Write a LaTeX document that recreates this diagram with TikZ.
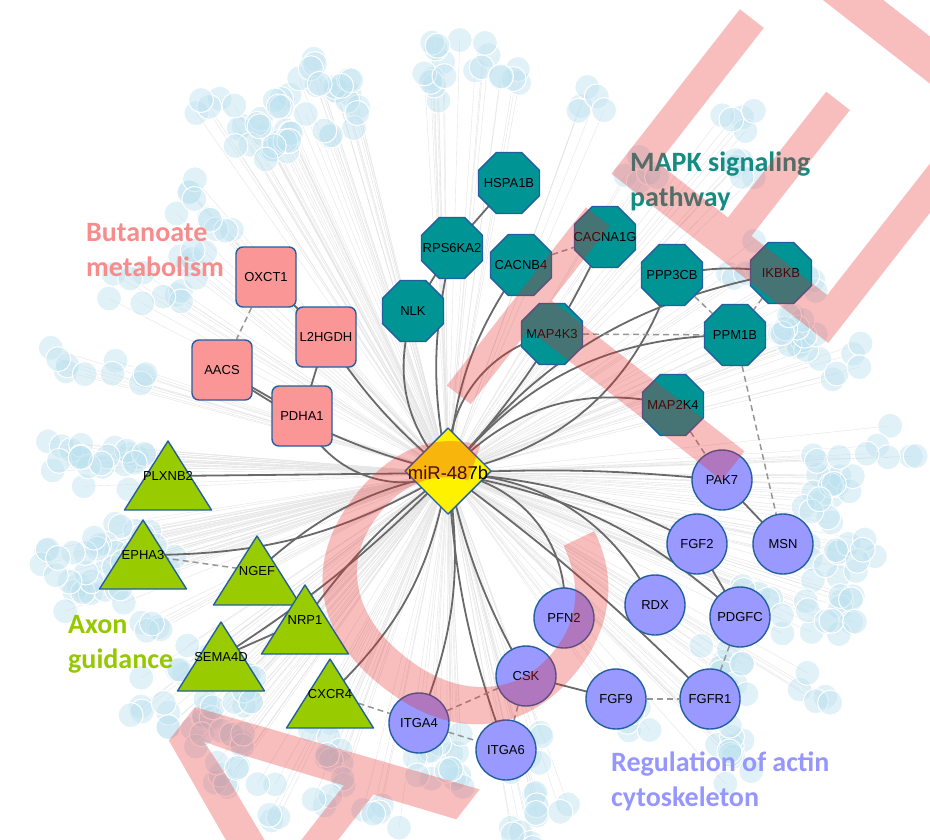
\documentclass[tikz,border=0pt]{standalone}
\usepackage{fontspec}
\setmainfont{Liberation Sans}
\newfontfamily\calfont{Carlito}
\usetikzlibrary{shapes.geometric}
\definecolor{sqfill}{RGB}{250,150,150}
\definecolor{octfill}{RGB}{0,148,148}
\definecolor{trifill}{RGB}{153,204,0}
\definecolor{cirfill}{RGB}{153,153,255}
\definecolor{nodeborder}{RGB}{35,95,160}
\definecolor{edgegray}{RGB}{105,105,105}
\definecolor{dashgray}{RGB}{150,150,150}
\definecolor{bgcirc}{RGB}{190,226,240}
\definecolor{wmred}{RGB}{232,40,40}
\definecolor{labred}{RGB}{248,140,140}
\definecolor{labteal}{RGB}{20,140,130}
\definecolor{labgreen}{RGB}{150,200,0}
\definecolor{labblue}{RGB}{150,150,255}
\pgfdeclarelayer{back}
\pgfdeclarelayer{edges}
\pgfsetlayers{back,edges,main}
\newcommand\trinode[4]{%
  \path[trishape] ({#2},{#3-35}) -- ({#2+43.5},{#3+34}) -- ({#2-43.5},{#3+34}) -- cycle;
  \node[lab] (#1) at (#2,#3) {#4};}
\newcommand\octnode[4]{%
  \node[oct] (#1) at (#2,#3) {};
  \node[lab] (#1-t) at (#1.center) {#4};}
\begin{document}
\begin{tikzpicture}[x=1pt,y=-1pt,
  lab/.style={font=\fontsize{13}{13}\selectfont, text=black, inner sep=0pt},
  sq/.style={lab, rectangle, rounded corners=7pt, minimum size=60pt, fill=sqfill, draw=nodeborder, line width=1.4pt},
  oct/.style={regular polygon, regular polygon sides=8, inner sep=0pt, minimum size=66pt, fill=octfill, draw=nodeborder, line width=1.4pt},
  cir/.style={lab, circle, minimum size=60pt, fill=cirfill, draw=nodeborder, line width=1.4pt},
  trishape/.style={fill=trifill, draw=nodeborder, line width=1.4pt, line join=round},
  hubedge/.style={draw=edgegray, line width=1.8pt},
  link/.style={draw=edgegray, line width=1.8pt},
  dlink/.style={draw=dashgray, line width=1.5pt, dash pattern=on 6pt off 4pt},
  catlab/.style={font=\calfont\bfseries\fontsize{28}{35}\selectfont, align=left, anchor=north west, inner sep=0pt},
  fanline/.style={draw=black!10, line width=0.4pt},
  bgdot/.style={fill=bgcirc, fill opacity=0.45, draw=white, line width=1pt},
]
\useasboundingbox (0,0) rectangle (930,839);

% ---------- hub ----------
\path[fill=yellow, draw=nodeborder, line width=1.4pt, line join=round]
  (448,428) -- (491,471) -- (448,514) -- (405,471) -- cycle;
\node[lab, font=\fontsize{18.5}{18.5}\selectfont] (hub) at (448,473) {miR-487b};

% ---------- Butanoate metabolism ----------
\node[sq] (oxct1) at (266,277) {OXCT1};
\node[sq] (l2hgdh) at (326,337) {L2HGDH};
\node[sq] (aacs) at (222,370) {AACS};
\node[sq] (pdha1) at (302,416) {PDHA1};

% ---------- MAPK ----------
\octnode{hspa1b}{509}{183}{HSPA1B}
\octnode{rps6ka2}{452}{248}{RPS6KA2}
\octnode{cacnb4}{521}{265}{CACNB4}
\octnode{cacna1g}{605}{237}{CACNA1G}
\octnode{nlk}{413}{311}{NLK}
\octnode{map4k3}{552}{334}{MAP4K3}
\octnode{ppp3cb}{672}{275}{PPP3CB}
\octnode{ikbkb}{781}{273}{IKBKB}
\octnode{ppm1b}{735}{335}{PPM1B}
\octnode{map2k4}{673}{405}{MAP2K4}

% ---------- Axon guidance ----------
\trinode{plxnb2}{168}{476}{PLXNB2}
\trinode{epha3}{143}{555}{EPHA3}
\trinode{ngef}{257}{571}{NGEF}
\trinode{nrp1}{305}{620}{NRP1}
\trinode{sema4d}{221}{657}{SEMA4D}
\trinode{cxcr4}{330}{694}{CXCR4}

% ---------- actin cytoskeleton ----------
\node[cir] (pak7) at (722,480) {PAK7};
\node[cir] (msn) at (783,544) {MSN};
\node[cir] (fgf2) at (697,544) {FGF2};
\node[cir] (rdx) at (655,605) {RDX};
\node[cir] (pdgfc) at (740,617) {PDGFC};
\node[cir] (pfn2) at (564,618) {PFN2};
\node[cir] (csk) at (526,676) {CSK};
\node[cir] (fgf9) at (616,699) {FGF9};
\node[cir] (fgfr1) at (710,699) {FGFR1};
\node[cir] (itga6) at (506,750) {ITGA6};
\node[cir] (itga4) at (419,723) {ITGA4};

% ---------- category labels ----------
\node[catlab, text=labred] (tbut) at (86,223) {Butanoate\\metabolism};
\node[catlab, text=labteal] (tmapk) at (630,152) {MAPK signaling\\pathway};
\node[catlab, text=labgreen] (taxon) at (68,615) {Axon\\guidance};
\node[catlab, text=labblue] (tactin) at (611,752) {Regulation of actin\\cytoskeleton};

% ---------- background cloud ----------
\begin{pgfonlayer}{back}
\fill[white] (0,0) rectangle (930,839);
\pgfmathsetseed{11}
\foreach \c in {1,...,85}{
  \pgfmathsetmacro\ang{rnd*360}
  \pgfmathsetmacro\rr{0.76+0.24*rnd}
  \pgfmathsetmacro\cx{470+440*\rr*cos(\ang)}
  \pgfmathsetmacro\cy{440-410*\rr*sin(\ang)}
  \foreach \k in {1,...,5}{
    \pgfmathsetmacro\px{\cx+40*(rnd-0.5)}
    \pgfmathsetmacro\py{\cy+40*(rnd-0.5)}
    \draw[fanline] (hub.center) -- (\px,\py);
  }
}
\pgfmathsetseed{11}
\foreach \c in {1,...,85}{
  \pgfmathsetmacro\ang{rnd*360}
  \pgfmathsetmacro\rr{0.76+0.24*rnd}
  \pgfmathsetmacro\cx{470+440*\rr*cos(\ang)}
  \pgfmathsetmacro\cy{440-410*\rr*sin(\ang)}
  \foreach \k in {1,...,5}{
    \pgfmathsetmacro\px{\cx+40*(rnd-0.5)}
    \pgfmathsetmacro\py{\cy+40*(rnd-0.5)}
    \path[bgdot] (\px,\py) circle[radius=12.5];
  }
}
\end{pgfonlayer}

% ---------- edges ----------
\begin{pgfonlayer}{edges}
\draw[hubedge] (hub.center) -- (plxnb2.center);
\draw[hubedge] (hub.center) to[bend left=45] (pdha1.center);
\draw[hubedge] (hub.center) to[bend left=10] (aacs.center);
\draw[hubedge] (hub.center) to[bend left=8] (l2hgdh.center);
\draw[hubedge] (hub.center) to[bend left=30] (nlk.center);
\draw[hubedge] (hub.center) to[bend left=12] (rps6ka2.center);
\draw[hubedge] (hub.center) to[bend left=15] (cacnb4.center);
\draw[hubedge] (hub.center) to[bend right=8] (cacna1g.center);
\draw[hubedge] (hub.center) to[bend left=40] (map4k3.center);
\draw[hubedge] (hub.center) to[bend left=25] (ppm1b.center);
\draw[hubedge] (hub.center) to[bend right=30] (ppp3cb.center);
\draw[hubedge] (hub.center) to[bend left=20] (ikbkb.center);
\draw[hubedge] (hub.center) to[bend left=30] (map2k4.center);
\draw[hubedge] (hub.center) to[bend left=4] (pak7.center);
\draw[hubedge] (hub.center) to[bend left=12] (fgf2.center);
\draw[hubedge] (hub.center) to[bend left=16] (pdgfc.center);
\draw[hubedge] (hub.center) to[bend left=30] (rdx.center);
\draw[hubedge] (hub.center) to[bend left=45] (pfn2.center);
\draw[hubedge] (hub.center) to[bend left=4] (fgfr1.center);
\draw[hubedge] (hub.center) to[bend right=8] (csk.center);
\draw[hubedge] (hub.center) to[bend right=8] (itga6.center);
\draw[hubedge] (hub.center) to[bend left=15] (itga4.center);
\draw[hubedge] (hub.center) to[bend left=18] (cxcr4.center);
\draw[hubedge] (hub.center) to[bend right=8] (nrp1.center);
\draw[hubedge] (hub.center) to[bend left=6] (sema4d.center);
\draw[hubedge] (hub.center) to[bend right=15] (ngef.center);
\draw[hubedge] (hub.center) to[bend left=15] (epha3.center);
% solid links
\draw[link] (oxct1.center) -- (l2hgdh.center);
\draw[link] (l2hgdh.center) -- (pdha1.center);
\draw[link] (aacs.center) -- (pdha1.center);
\draw[link] (hspa1b.center) -- (rps6ka2.center);
\draw[link] (rps6ka2.center) -- (nlk.center);
\draw[link] (ikbkb.center) to[bend right=10] (ppp3cb.center);
\draw[link] (pak7.center) -- (msn.center);
\draw[link] (fgf2.center) -- (pdgfc.center);
\draw[link] (csk.center) -- (fgf9.center);
\draw[link] (sema4d.center) -- (nrp1.center);
% dashed links
\draw[dlink] (oxct1) -- (aacs);
\draw[dlink] (cacnb4) -- (cacna1g);
\draw[dlink] (map4k3) -- (ppm1b);
\draw[dlink] (ppp3cb) -- (ppm1b);
\draw[dlink] (ikbkb) -- (ppm1b);
\draw[dlink] (ppm1b) -- (msn);
\draw[dlink] (map2k4) -- (pak7);
\draw[dlink] (pdgfc) -- (fgfr1);
\draw[dlink] (fgf9) -- (fgfr1);
\draw[dlink] (csk) -- (itga6);
\draw[dlink] (itga4) -- (csk);
\draw[dlink] (itga4) -- (itga6);
\draw[dlink] (cxcr4.center) -- (itga4);
\draw[dlink] (epha3.center) -- (ngef.center);
\end{pgfonlayer}

% ---------- watermark ----------
\begin{scope}
\clip (0,0) rectangle (930,839);
\node[rotate=52, text=wmred, text opacity=0.3, inner sep=0pt,
      font=\fontsize{400}{400}\selectfont] (wm) at (290,810) {RETRACTED};
\end{scope}
\end{tikzpicture}
\end{document}
